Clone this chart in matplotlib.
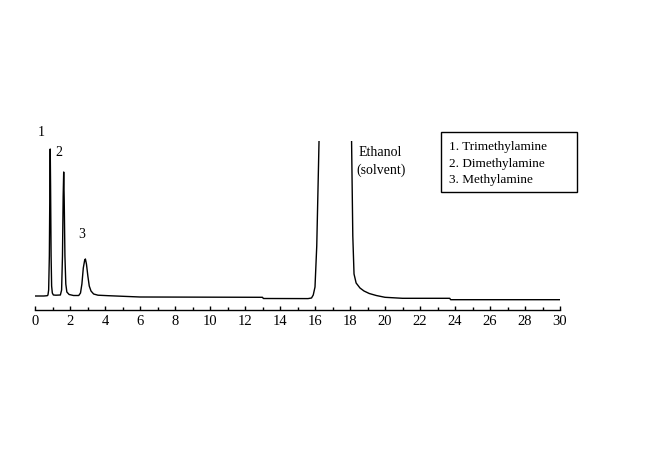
import matplotlib
matplotlib.use("Agg")
import matplotlib.pyplot as plt
from matplotlib.patches import Rectangle
from matplotlib.ticker import MultipleLocator

plt.rcParams["font.family"] = ["Liberation Serif", "DejaVu Serif"]

# chromatogram trace: retention time (min) and detector signal (arb.)
time_min = [0.0, 0.5, 0.70, 0.74, 0.78, 0.82, 0.85, 0.87, 0.89, 0.92, 0.95, 0.99, 1.05,
            1.20, 1.45, 1.52, 1.57, 1.61, 1.64, 1.67, 1.71, 1.76, 1.82, 1.95, 2.20,
            2.50, 2.60, 2.68, 2.76, 2.84, 2.88, 2.94, 3.02, 3.10, 3.20, 3.35, 3.60, 4.20,
            6.0, 13.0, 13.05, 15.6, 15.8, 15.9, 16.0, 16.1, 16.2, 16.23, 16.3, 17.2,
            18.0, 18.09, 18.16, 18.23, 18.35, 18.57, 18.8, 19.1, 19.5, 20.0, 21.0,
            23.7, 23.75, 30.0]
signal = [0.0, 0.0, 0.3, 1.0, 6.0, 40.0, 110.0, 147.0, 110.0, 40.0, 10.0, 3.0, 1.0,
          0.8, 1.0, 6.0, 40.0, 100.0, 124.0, 95.0, 40.0, 12.0, 4.0, 1.5, 0.5,
          0.5, 3.0, 12.0, 28.0, 36.0, 37.0, 32.0, 20.0, 10.0, 5.0, 2.0, 0.8, 0.3,
          -1.0, -1.3, -2.5, -2.6, -2.0, 1.0, 9.0, 50.0, 130.0, 155.0, 250.0, 900.0,
          300.0, 155.0, 60.0, 22.0, 13.0, 8.0, 5.0, 2.5, 0.5, -1.3, -2.3,
          -2.3, -3.7, -3.7]

# peak labels: (text, time, signal position)
peak_labels = ["1", "2", "3"]
peak_label_t = [0.34, 1.37, 2.69]
peak_label_y = [164, 144, 62]

legend_lines = ["1. Trimethylamine", "2. Dimethylamine", "3. Methylamine"]

fig = plt.figure(figsize=(6.5, 4.77), dpi=100)
ax = fig.add_axes([35 / 650, 166 / 477, 525 / 650, 169 / 477])

ax.plot(time_min, signal, color="black", lw=1.0)
ax.set_xlim(0, 30)
ax.set_ylim(-14, 155)

for s in ["left", "right", "top"]:
    ax.spines[s].set_visible(False)
ax.spines["bottom"].set_linewidth(1.0)
ax.set_yticks([])
ax.xaxis.set_major_locator(MultipleLocator(2))
ax.xaxis.set_minor_locator(MultipleLocator(1))
ax.tick_params(axis="x", which="major", direction="in", length=3, width=1, labelsize=10.5, pad=3)
ax.tick_params(axis="x", which="minor", direction="in", length=2, width=1)

for lab, t, y in zip(peak_labels, peak_label_t, peak_label_y):
    ax.text(t, y, lab, fontsize=10, ha="center", va="center", clip_on=False)

ax.text(19.7, 144, "Ethanol", fontsize=10, ha="center", va="center")
ax.text(19.75, 127, "(solvent)", fontsize=10, ha="center", va="center")

# legend box drawn in figure pixels
fig.patches.append(Rectangle((441 / 650, 1 - 193 / 477), 136 / 650, 60 / 477,
                             transform=fig.transFigure, fill=False, ec="black", lw=1.0))
for i, line in enumerate(legend_lines):
    fig.text(449 / 650, 1 - (147 + 16.5 * i) / 477, line, fontsize=9.5, va="center", ha="left")

fig.savefig("out.png", dpi=100)
